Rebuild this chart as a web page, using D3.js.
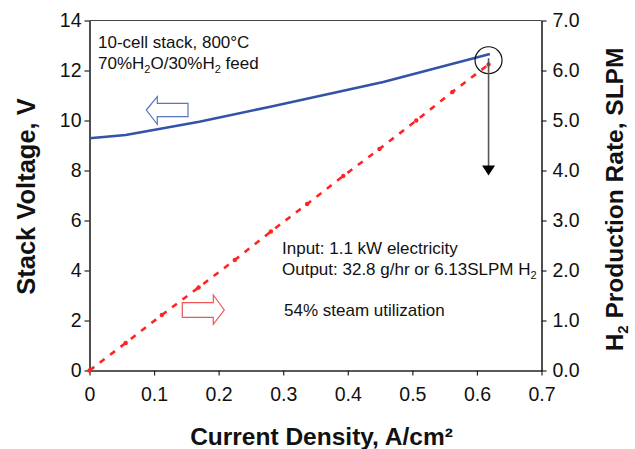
<!DOCTYPE html>
<html><head><meta charset="utf-8">
<script src="https://cdn.jsdelivr.net/npm/d3@7"></script>
<style>
html,body{margin:0;padding:0;background:#fff;}
svg{display:block;font-family:"Liberation Sans",Arial,sans-serif;}
</style></head>
<body>
<script>
// ---- data ----
const currentV = [0, 0.056, 0.17, 0.28, 0.455, 0.62];
const voltage  = [9.29, 9.42, 9.95, 10.55, 11.54, 12.66];
const currentH = [0, 0.056, 0.112, 0.169, 0.225, 0.281, 0.337, 0.393, 0.449, 0.506, 0.562, 0.618];
const h2Rate   = [0, 0.55, 1.11, 1.66, 2.21, 2.78, 3.33, 3.89, 4.43, 5.0, 5.57, 6.12];
const xTicks  = [0, 0.1, 0.2, 0.3, 0.4, 0.5, 0.6, 0.7];
const yLTicks = [0, 2, 4, 6, 8, 10, 12, 14];
const yRTicks = [0, 1, 2, 3, 4, 5, 6, 7];

const W = 635, H = 449;
const L = 89.5, R = 541.5, T = 20.5, B = 370.5;

const svg = d3.select("body").append("svg").attr("width", W).attr("height", H);
svg.append("rect").attr("width", W).attr("height", H).attr("fill", "#fff");

const x  = d3.scaleLinear().domain([0, 0.7]).range([L, R]);
const yL = d3.scaleLinear().domain([0, 14]).range([B, T]);
const yR = d3.scaleLinear().domain([0, 7]).range([B, T]);

// top border
svg.append("line").attr("x1", L).attr("x2", R).attr("y1", T).attr("y2", T)
  .attr("stroke", "#444").attr("stroke-width", 1);

function styleAxis(g) {
  g.select(".domain").attr("stroke", "#222").attr("stroke-width", 1.6);
  g.selectAll(".tick line").attr("stroke", "#222").attr("stroke-width", 1.2);
  g.selectAll(".tick text").attr("fill", "#111").style("font-size", "19.5px")
    .style("font-family", '"Liberation Sans", Arial, sans-serif');
}

const gx = svg.append("g").attr("transform", `translate(0,${B})`)
  .call(d3.axisBottom(x).tickValues(xTicks).tickSize(5).tickPadding(12)
    .tickSizeOuter(0).tickFormat(d => d === 0 ? "0" : d3.format(".1f")(d)));
styleAxis(gx);

const gl = svg.append("g").attr("transform", `translate(${L},0)`)
  .call(d3.axisLeft(yL).tickValues(yLTicks).tickSize(5).tickPadding(3)
    .tickSizeOuter(0).tickFormat(d3.format("d")));
styleAxis(gl);

const gr = svg.append("g").attr("transform", `translate(${R},0)`)
  .call(d3.axisRight(yR).tickValues(yRTicks).tickSize(5).tickPadding(6)
    .tickSizeOuter(0).tickFormat(d3.format(".1f")));
styleAxis(gr);

// ---- series ----
const lineV = d3.line().x((d, i) => x(currentV[i])).y(d => yL(d));
svg.append("path").datum(voltage).attr("d", lineV)
  .attr("fill", "none").attr("stroke", "#3352a8").attr("stroke-width", 2.6);

const lineH = d3.line().x((d, i) => x(currentH[i])).y(d => yR(d));
svg.append("path").datum(h2Rate).attr("d", lineH)
  .attr("fill", "none").attr("stroke", "#ff2424").attr("stroke-width", 2.6)
  .attr("stroke-dasharray", "6,7");
svg.selectAll("circle.pt").data(h2Rate).join("circle").attr("class", "pt")
  .attr("cx", (d, i) => x(currentH[i])).attr("cy", d => yR(d))
  .attr("r", 2.2).attr("fill", "#ff2424");

// ---- annotations ----
const lastI = currentV.length - 1, lastJ = currentH.length - 1;
const cx = x(currentH[lastJ]);
const cy = (yL(voltage[lastI]) + yR(h2Rate[lastJ])) / 2 + 1;
svg.append("circle").attr("cx", cx).attr("cy", cy).attr("r", 13.5)
  .attr("fill", "none").attr("stroke", "#111").attr("stroke-width", 1.2);
const tipY = yR(3.9);
svg.append("line").attr("x1", cx).attr("x2", cx).attr("y1", cy - 2).attr("y2", tipY - 9)
  .attr("stroke", "#555").attr("stroke-width", 1.6);
svg.append("path").attr("d", `M${cx - 6.5},${tipY - 10}L${cx + 6.5},${tipY - 10}L${cx},${tipY}Z`)
  .attr("fill", "#000");

// hollow arrows
svg.append("path")
  .attr("d", "M146.3,110 L157.3,96.7 L157.3,103.3 L188,103.3 L188,116.7 L157.3,116.7 L157.3,124.3 Z")
  .attr("fill", "#fff").attr("stroke", "#5a74c0").attr("stroke-width", 1.2);
svg.append("path")
  .attr("d", "M224.3,310 L213.3,295 L213.3,302.7 L182.3,302.7 L182.3,317.3 L213.3,317.3 L213.3,324.3 Z")
  .attr("fill", "#fff").attr("stroke", "#ee5555").attr("stroke-width", 1.2);

// texts
const tfont = '"Liberation Sans", Arial, sans-serif';
function note(xp, yp, parts) {
  const t = svg.append("text").attr("x", xp).attr("y", yp)
    .style("font-size", "17px").style("font-family", tfont).attr("fill", "#111");
  let pending = 0;
  parts.forEach(p => {
    if (typeof p === "string") {
      const s = t.append("tspan").text(p);
      if (pending) { s.attr("dy", pending); pending = 0; }
    } else {
      t.append("tspan").attr("dy", 4).style("font-size", "11px").text(p.sub);
      pending = -4;
    }
  });
  return t;
}
note(98, 48, ["10-cell stack, 800°C"]);
note(98, 69, ["70%H", {sub: "2"}, "O/30%H", {sub: "2"}, " feed"]);
note(282, 254, ["Input: 1.1 kW electricity"]);
note(282, 275, ["Output: 32.8 g/hr or 6.13SLPM H", {sub: "2"}]);
note(284, 316, ["54% steam utilization"]);

// axis titles
svg.append("text").attr("x", (L + R) / 2 + 6).attr("y", 445)
  .attr("text-anchor", "middle").style("font-size", "24.5px").style("font-weight", "bold")
  .style("font-family", tfont).attr("fill", "#111").text("Current Density, A/cm²");

svg.append("text").attr("transform", `translate(35,${(T + B) / 2 + 1}) rotate(-90)`)
  .attr("text-anchor", "middle").style("font-size", "25.5px").style("font-weight", "bold")
  .style("font-family", tfont).attr("fill", "#111").text("Stack Voltage, V");

const rt = svg.append("text").attr("transform", `translate(623,${(T + B) / 2 + 4}) rotate(-90)`)
  .attr("text-anchor", "middle").style("font-size", "24.5px").style("font-weight", "bold")
  .style("font-family", tfont).attr("fill", "#111");
rt.append("tspan").text("H");
rt.append("tspan").attr("dy", 5).style("font-size", "15px").text("2");
rt.append("tspan").attr("dy", -5).text(" Production Rate, SLPM");
</script>
</body></html>
